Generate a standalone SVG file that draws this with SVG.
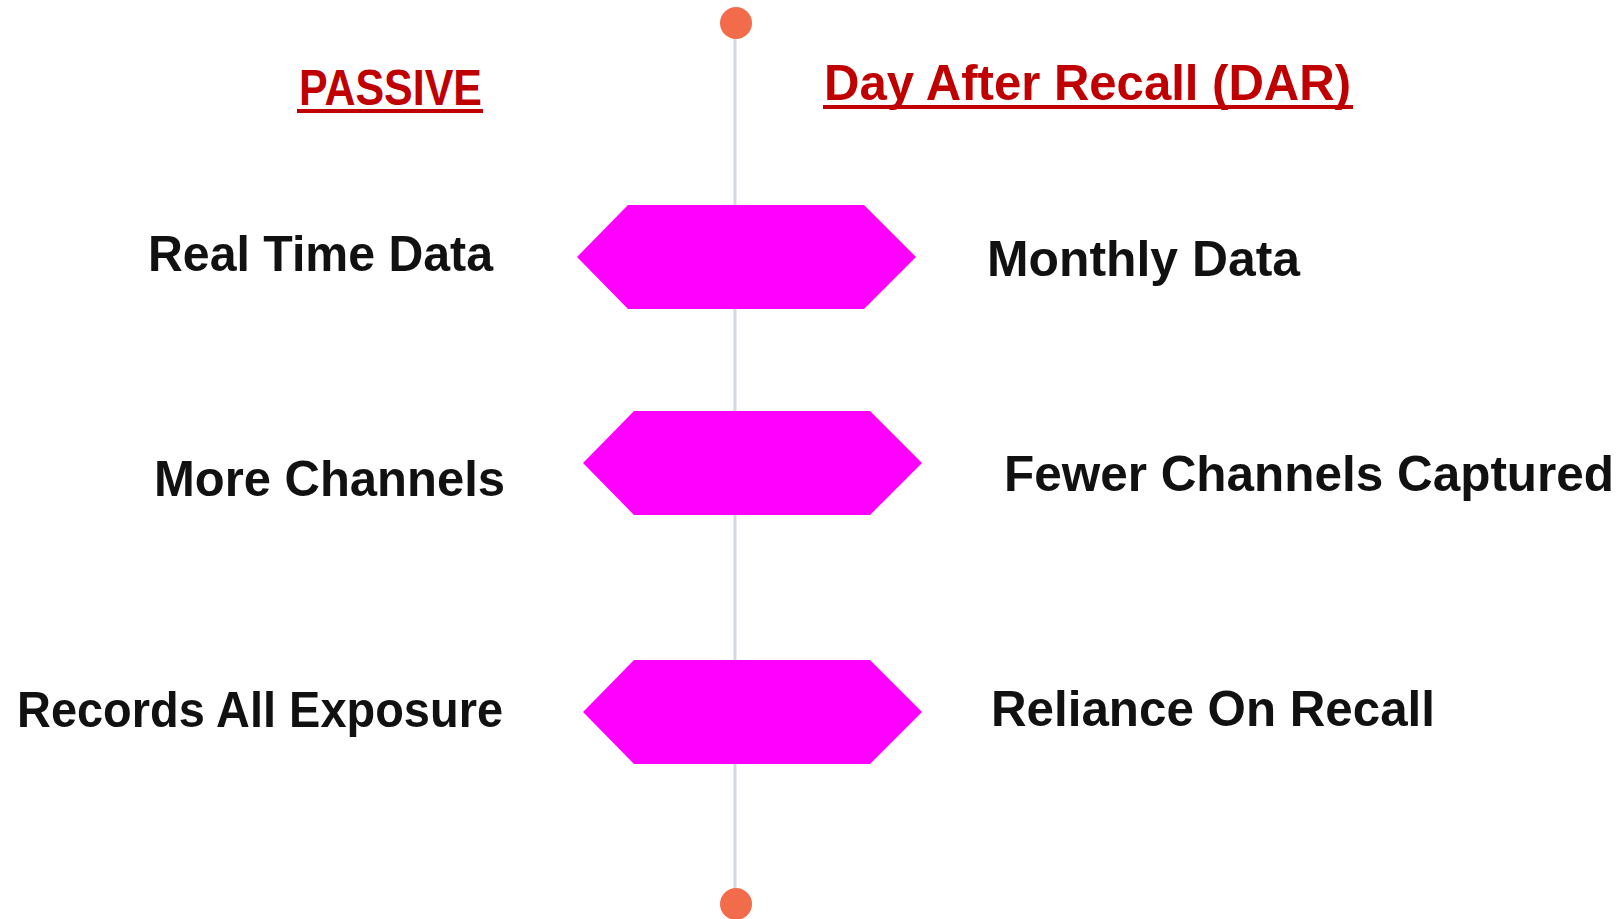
<svg xmlns="http://www.w3.org/2000/svg" width="1624" height="919" viewBox="0 0 1624 919">
  <style>
    .lbl { font-family: "Liberation Sans", Arial, sans-serif; font-weight: bold; font-size: 50px; fill: #111111; }
    .head { font-family: "Liberation Sans", Arial, sans-serif; font-weight: bold; font-size: 50px; fill: #C00000; }
    .ul { fill: #C00000; }
    .hex { fill: #FF00FF; }
    .dot { fill: #F26B4B; }
    .axis { stroke: #D3D9E3; stroke-width: 3; fill: none; }
  </style>
  <rect width="1624" height="919" fill="#FFFFFF"/>
  <g id="connectors">
    <line class="axis" x1="735" y1="23" x2="735" y2="905"/>
  </g>
  <g id="start-dot"><circle class="dot" cx="736" cy="23" r="16"/></g>
  <g id="end-dot"><circle class="dot" cx="736" cy="904" r="16"/></g>
  <g id="heading-passive">
    <text class="head" x="299" y="105" textLength="183" lengthAdjust="spacingAndGlyphs">PASSIVE</text>
    <rect class="ul" x="297" y="109" width="186" height="4"/>
  </g>
  <g id="heading-dar">
    <text class="head" x="824" y="100" textLength="527" lengthAdjust="spacingAndGlyphs">Day After Recall (DAR)</text>
    <rect class="ul" x="823" y="105" width="530" height="4"/>
  </g>
  <g id="row1">
    <polygon class="hex" points="577,257 628,205 864,205 916,257 864,309 628,309"/>
    <text class="lbl" x="148" y="271" textLength="345" lengthAdjust="spacingAndGlyphs">Real Time Data</text>
    <text class="lbl" x="987" y="276" textLength="313" lengthAdjust="spacingAndGlyphs">Monthly Data</text>
  </g>
  <g id="row2">
    <polygon class="hex" points="583,463 634,411 870,411 922,463 870,515 634,515"/>
    <text class="lbl" x="154" y="496" textLength="351" lengthAdjust="spacingAndGlyphs">More Channels</text>
    <text class="lbl" x="1004" y="491" textLength="610" lengthAdjust="spacingAndGlyphs">Fewer Channels Captured</text>
  </g>
  <g id="row3">
    <polygon class="hex" points="583,712 634,660 870,660 922,712 870,764 634,764"/>
    <text class="lbl" x="17" y="727" textLength="486" lengthAdjust="spacingAndGlyphs">Records All Exposure</text>
    <text class="lbl" x="991" y="726" textLength="444" lengthAdjust="spacingAndGlyphs">Reliance On Recall</text>
  </g>
</svg>
